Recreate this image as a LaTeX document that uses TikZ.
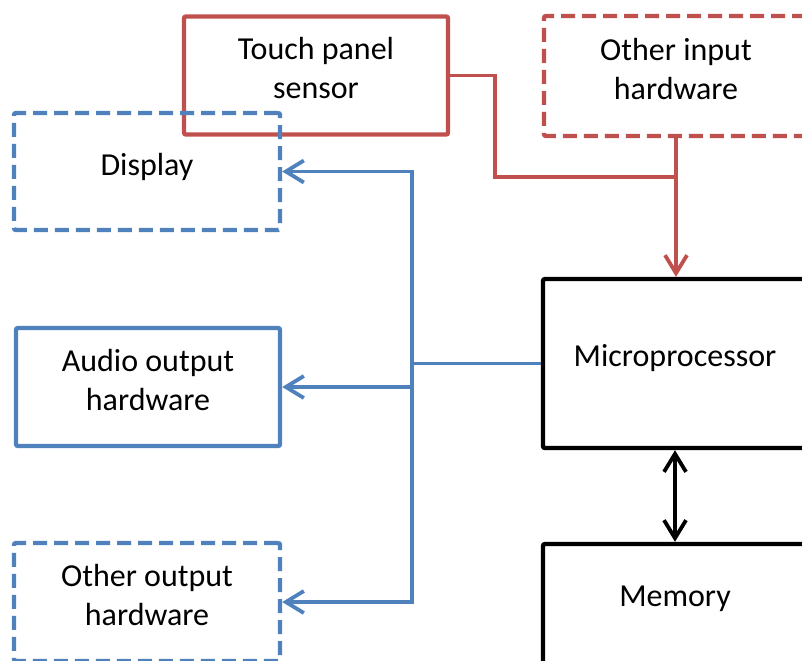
\documentclass[tikz,border=0pt]{standalone}
\usepackage{fontspec}
\setmainfont{Carlito}
\usetikzlibrary{arrows.meta, positioning}
\definecolor{inputRed}{HTML}{C0504D}
\definecolor{outputBlue}{HTML}{4F81BD}

\begin{document}
\begin{tikzpicture}[x=0.5pt, y=-0.5pt,
    box/.style={draw, rounded corners=1pt, line width=2.2pt, minimum width=132pt, minimum height=59pt, inner sep=0pt},
    optional/.style={dash pattern=on 7pt off 3.5pt},
    boxtext/.style={font=\fontsize{16}{19.5}\selectfont, align=center, yshift=3.75pt},
    onetext/.style={boxtext, yshift=-1.25pt},
    wire/.style={line width=1.9pt},
    arrow/.style={wire, -{Straight Barb[length=9pt, width=11pt]}},
    biarrow/.style={wire, {Straight Barb[length=9pt, width=11pt]}-{Straight Barb[length=9pt, width=11pt]}},
]
    \useasboundingbox (0,0) rectangle (802,660);
    \clip (0,0) rectangle (802,660);

    % Input hardware
    \node[box, inputRed, label={[boxtext]center:{Touch panel\\sensor}}] (touch) at (316,75.5) {};
    \node[box, inputRed, optional, minimum height=60pt, label={[boxtext]center:{Other input\\hardware}}] (input) at (676,76) {};

    % Output hardware
    \node[box, outputBlue, optional, minimum width=133pt, minimum height=58.5pt, label={[onetext]center:{Display}}] (display) at (147,171.5) {};
    \node[box, outputBlue, label={[boxtext]center:{Audio output\\hardware}}] (audio) at (148,387) {};
    \node[box, outputBlue, optional, minimum width=133pt, label={[boxtext]center:{Other output\\hardware}}] (others) at (147,602) {};

    % Processing
    \node[box, minimum height=84.5pt, label={[onetext]center:{Microprocessor}}] (micro) at (675,363.5) {};
    \node[box, minimum height=60pt, label={[onetext]center:{Memory}}] (memory) at (675,604) {};

    % Red input wires
    \coordinate (bend) at (495,177);
    \coordinate (merge) at (676,177);
    \draw[wire, inputRed] (touch.east) -| (bend) -- (merge);
    \draw[arrow, inputRed] (input.south) -- (input.south |- micro.north);

    % Blue output bus
    \coordinate (bus) at (412,363.5);
    \draw[wire, outputBlue] (micro.west) -- (bus);
    \draw[biarrow, outputBlue] (display.east) -- (bus |- display.east) -- (bus |- others.east) -- (others.east);
    \draw[arrow, outputBlue] (bus |- audio.east) -- (audio.east);

    % Memory link
    \draw[biarrow] (micro.south) -- (memory.north);
\end{tikzpicture}
\end{document}
